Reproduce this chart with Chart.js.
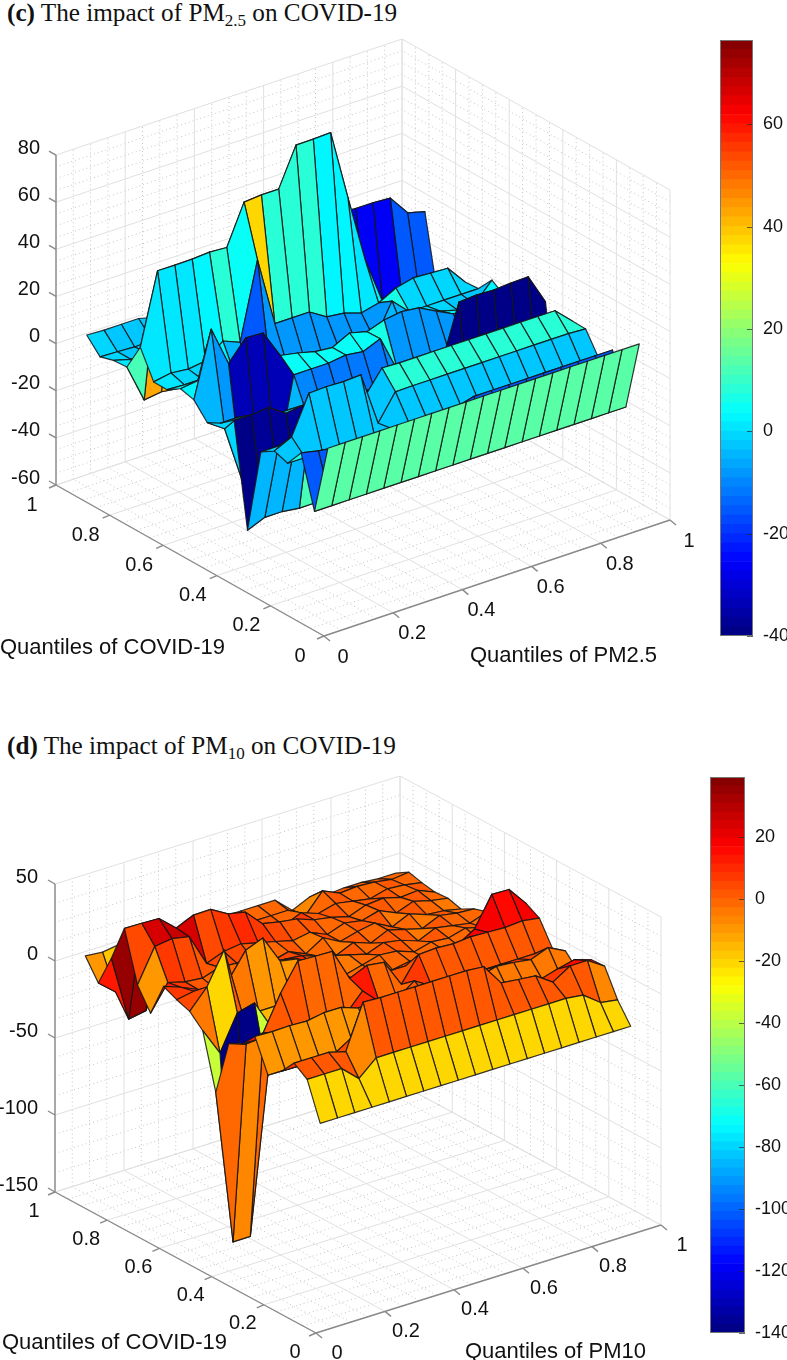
<!DOCTYPE html>
<html>
<head>
<meta charset="utf-8">
<title>Quantile impact surfaces</title>
<script src="https://cdn.jsdelivr.net/npm/chart.js@4"></script>
<style>
html, body { margin: 0; padding: 0; background: #fff; }
#page { position: relative; width: 787px; height: 1360px; overflow: hidden; }
canvas { position: absolute; }
.title { position: absolute; left: 7px; font-family: "Liberation Serif", serif; font-size: 25.2px; color: #111; white-space: nowrap; }
.title sub { font-size: 17px; vertical-align: -5px; line-height: 0; }
</style>
</head>
<body>
<div id="page">
    <div class="title" style="top:-1px"><b>(c)</b> The impact of PM<sub>2.5</sub> on COVID-19</div>
    <div class="title" style="top:732px"><b>(d)</b> The impact of PM<sub>10</sub> on COVID-19</div>
    <canvas id="surfaceC" style="left:0;top:0"></canvas>
    <canvas id="surfaceD" style="left:0;top:680px"></canvas>
    <canvas id="barC" style="left:690px;top:0"></canvas>
    <canvas id="barD" style="left:690px;top:680px"></canvas>
</div>
<script>
// grid of the quantiles on both floor axes
const quantiles = [0.05,0.1,0.15,0.2,0.25,0.3,0.35,0.4,0.45,0.5,0.55,0.6,0.65,0.7,0.75,0.8,0.85,0.9,0.95];
const floorTicks = [0,0.2,0.4,0.6,0.8,1];
const zTicksC = [-60,-40,-20,0,20,40,60,80];
const zTicksD = [-150,-100,-50,0,50];
const barTicksC = [-40,-20,0,20,40,60];
const barTicksD = [-140,-120,-100,-80,-60,-40,-20,0,20];

// rows run along PM, one row per COVID-19 quantile (0.05 first)
const impactPM25 = [
    [14,14,14,14,14,14,14,14,14,14,14,14,14,14,14,14,14,14,14],
    [-16,-16,-16,-16,-16,-16,-16,-16,-16,-16,-16,-16,-16,-16,-16,-16,-16,-16,-16],
    [5.6,4,3,3,3,3,3,3,3,3,5,5,5,5,5,5,5,5,5],
    [-2,-2,-2,-2,-2,-2,-2,-2,-2,-2,-2,-2,-2,-2,-2,-2,-2,-2,-2],
    [0,3.5,19.6,19.9,19.6,20,-3,7.9,8,8,8,8,8,8,8,8,8,8,7.5],
    [-3.6,-3.6,-3.6,12,5,5,5,14.8,14.5,14.5,14.5,14.5,14.5,14.5,14.5,14.5,14.5,14.5,7.7],
    [-40,-37,-37,-38,-38,-37,-38,-40,-40,-40,-40,-40,-40,-40,-40,-40,-40,-40,-40],
    [3.5,3.2,4,-1,0,0,-1,-2,-3,-3,-3,-3,-2,21.6,22.1,21.8,22.3,22.5,9.4],
    [-1,-1,-5,-5,-5,-10,-12,-12,-12,-12,-10,-8,-8,-8,-8,-8,-8,-8,-8],
    [-4,-9,-33,-33,-33,4,4,4,5,4,7,-9,-9,-9,-9,-9,-9,-9,-9],
    [2.5,30,13,21.4,21,9,7.6,5.7,5,8.7,6.8,9.3,10.4,9.5,5.7,2,2,2,2],
    [4,5,5,3,3,0,-3,-5,-5,-5,-5,-5,-5,-5,0,0,-2,-2,5.8],
    [0.4,0,0,3,-5,-15,-8,-8,-8,-8,-8,-8,-8,6,-1,-1,-1,-1,-1],
    [0.5,1.8,1,2,8,5,37.5,8,8,8,3.5,2.6,0.2,2,5.9,7.7,7.3,6.9,-1.4],
    [12,42,41.9,42,42.5,42,58.8,59.4,59.4,75.6,75.7,76,46,17,-3,-3,-3,-3,-3],
    [0.4,-16,-15,-16,-18,-20,-22,-25,-25,-25,-25,-25,-25,-26,-26,-26,-15,-15,-15],
    [0,-2,-2,3,5,5,5,5,10,20,25,28,28,30.6,30,30,29.5,20.8,18.8],
    [-1.7,-2,-2.4,-2,0,0,0,0,0,0,0,0,0,0,0,0,0,0,0],
    [4.4,4,4,4,2,2,2,2,2,2,2,2,2,2,2,2,2,2,2]
];

const impactPM10 = [
    [-22,-22,-22,-22,-22,-22,-22,-22,-22,-22,-22,-22,-22,-22,-22,-22,-22,-22,-22],
    [2,2,2,-8,2,2,2,2,2,2,2,2,2,2,2,2,0.6,-7.7,-9.5],
    [8,8,8,5,33.6,33,33,33,33,33,33,32,18,16.7,15.6,8,15,15,7.9],
    [-2,-2,-2,-2,5,5,5,5,5,5,5,5,5,5,5,5,8.3,11,7.4],
    [-9,-9,-9,-9,-9,-9,-8,-8,0,0,0,0,-5,-5,-5,-5,-5,-5,-5],
    [11.6,11.2,11.5,11,13,12.9,9,11,2,2,2,2,5,5,8,7,5.4,9.7,4],
    [2,2,2,2,0,0,0,12,0,0,8,1.2,1.2,1.2,1.2,1.2,1.2,1.2,1.2],
    [-2,-6,-2,20,37.4,37,36.6,15.6,20.5,19,1.2,17,17.7,17,18,17.5,17,17.9,16.2],
    [-38.5,-139,-139,-39,8,8,8,8,8,8,5,5,5,5,8,15,34,33.7,21],
    [-3,-21,1.5,4.5,-15,-5,0,0,0,-2,0,-2,0,-2,0,-2,0,-2,0],
    [5,17.3,37.8,-5,-9,-9,-9,-5,-3,-3,0,3,2,-2,1,0,3,0,-2],
    [8,10,8,10,26,30.5,12,10,3,5,2,-1,3,1,-3,2,0,-2,2],
    [12,8,3,0,-2,-18,-18,5,4,0,-3,2,-2,3,0,-3,2,0,-0.7],
    [-10,6.5,3.4,2.3,5.8,5,3,-1,2,-3,4,-2,1,3,-3,2,-2,-3,-5.4],
    [3.8,25.3,26.9,24.6,3.8,8,9.5,6.6,4,1,3,-2,2,0,3,-2,2,-1,-3],
    [36,35.8,35.4,25.7,30.6,30.8,24.4,22,11,8.7,7,3,1,-2,2,3,0,1,-3.6],
    [12,-31,-29,0,0,0,0,0,0,2,-2,3,-1,2,0,-2,1,0,-2],
    [-8.6,-18,-5,0,0,0,0,0,0,0,0,0,-7,5.6,0.6,1.5,0.8,-1,0.2],
    [4.4,3.3,5,3,2,2,2,2,2,2,2,2,-8,-3,-5,-4,-4,-5,-5]
];

function jetColor(value, min, max) {
    let level = Math.floor((value - min) / (max - min) * 64);
    level = Math.max(0, Math.min(63, level));
    const t = (level + 0.5) / 64;
    const part = function(center) {
        const v = Math.max(0, Math.min(1, 1.5 - Math.abs(4 * t - center)));
        return Math.round(v * 255);
    };
    return 'rgb(' + part(3) + ',' + part(2) + ',' + part(1) + ')';
}

// the view of each panel: where the floor axes and the z axis land on the canvas
const viewC = {
    width: 787, height: 680,
    ox: 324, oy: 636, xdx: 346, xdy: -116, ydx: -268, ydy: -151, zScale: 2.357,
    zMin: -60, zMax: 80, cMin: -40, cMax: 76.5,
    zTicks: zTicksC, xTitle: 'Quantiles of PM2.5',
    yTitleAt: [0, 648], xTitleAt: [470, 656],
    yLabel: [-24, 20], xLabel: [19, 21], zLabelX: 40
};
const viewD = {
    width: 787, height: 680,
    ox: 316, oy: 653, xdx: 345, xdy: -108, ydx: -261, ydy: -141, zScale: 1.54,
    zMin: -150, zMax: 50, cMin: -140, cMax: 39.5,
    zTicks: zTicksD, xTitle: 'Quantiles of PM10',
    yTitleAt: [2, 663], xTitleAt: [465, 672],
    yLabel: [-21, 19], xLabel: [21, 20], zLabelX: 38
};

function project(view, x, y, z) {
    return {
        x: view.ox + view.xdx * x + view.ydx * y,
        y: view.oy + view.xdy * x + view.ydy * y - view.zScale * (z - view.zMin)
    };
}

const boxPlugin = {
    id: 'box',
    beforeDatasetsDraw(chart, args, opts) {
        const view = opts.view;
        const ctx = chart.ctx;
        const sx = chart.scales.x, sy = chart.scales.y;
        const line = function(a, b) {
            ctx.beginPath();
            ctx.moveTo(sx.getPixelForValue(a.x), sy.getPixelForValue(a.y));
            ctx.lineTo(sx.getPixelForValue(b.x), sy.getPixelForValue(b.y));
            ctx.stroke();
        };
        const P = function(x, y, z) { return project(view, x, y, z); };
        const drawGrid = function(floorList, zList) {
            floorList.forEach(function(q) {
                line(P(q, 0, view.zMin), P(q, 1, view.zMin));
                line(P(0, q, view.zMin), P(1, q, view.zMin));
                line(P(q, 1, view.zMin), P(q, 1, view.zMax));
                line(P(1, q, view.zMin), P(1, q, view.zMax));
            });
            zList.forEach(function(z) {
                line(P(0, 1, z), P(1, 1, z));
                line(P(1, 0, z), P(1, 1, z));
            });
        };
        ctx.save();
        // minor dotted grid first, every fourth of a major step
        const minorFloor = [], minorZ = [];
        for (let i = 1; i < 20; i++) if (i % 4 !== 0) minorFloor.push(i / 20);
        const zStep = view.zTicks[1] - view.zTicks[0];
        for (let i = 0; i < view.zTicks.length - 1; i++) {
            for (let k = 1; k < 4; k++) minorZ.push(view.zTicks[i] + zStep * k / 4);
        }
        ctx.strokeStyle = '#c4c4c4';
        ctx.lineWidth = 1;
        ctx.setLineDash([1, 3]);
        drawGrid(minorFloor, minorZ);
        ctx.setLineDash([]);
        ctx.strokeStyle = '#e0e0e0';
        drawGrid(floorTicks, view.zTicks);

        // axes and tick marks
        ctx.strokeStyle = '#8a8a8a';
        ctx.lineWidth = 1.4;
        line(P(0, 0, view.zMin), P(1, 0, view.zMin));
        line(P(0, 0, view.zMin), P(0, 1, view.zMin));
        line(P(0, 1, view.zMin), P(0, 1, view.zMax));
        floorTicks.forEach(function(q) {
            const a = P(q, 0, view.zMin), b = P(0, q, view.zMin);
            line(a, { x: a.x + 6, y: a.y + 5 });
            line(b, { x: b.x - 7, y: b.y + 3 });
        });
        view.zTicks.forEach(function(z) {
            const a = P(0, 1, z);
            line(a, { x: a.x - 7, y: a.y - 4 });
        });
        ctx.restore();
    },
    afterDatasetsDraw(chart, args, opts) {
        const view = opts.view;
        const rows = opts.rows;
        const n = quantiles.length;
        const pts = chart.getDatasetMeta(0).data;
        const ctx = chart.ctx;
        ctx.save();
        ctx.lineJoin = 'round';
        ctx.lineWidth = 1.2;
        ctx.strokeStyle = 'rgba(20,20,20,0.85)';
        // far corner first so nearer cells paint over it
        for (let j = n - 2; j >= 0; j--) {
            for (let i = n - 2; i >= 0; i--) {
                const a = pts[j * n + i], b = pts[j * n + i + 1];
                const c = pts[(j + 1) * n + i + 1], d = pts[(j + 1) * n + i];
                ctx.beginPath();
                ctx.moveTo(a.x, a.y);
                ctx.lineTo(b.x, b.y);
                ctx.lineTo(c.x, c.y);
                ctx.lineTo(d.x, d.y);
                ctx.closePath();
                ctx.fillStyle = jetColor(rows[j][i], view.cMin, view.cMax);
                ctx.fill();
                ctx.stroke();
            }
        }
        // labels
        ctx.fillStyle = '#111';
        ctx.font = '20px "Liberation Sans", Arial, sans-serif';
        ctx.textBaseline = 'middle';
        ctx.textAlign = 'right';
        view.zTicks.forEach(function(z) {
            const a = project(view, 0, 1, z);
            ctx.fillText(String(z), view.zLabelX, a.y - 7);
        });
        ctx.textAlign = 'center';
        floorTicks.forEach(function(q) {
            const a = project(view, q, 0, view.zMin), b = project(view, 0, q, view.zMin);
            ctx.fillText(String(q), a.x + view.xLabel[0], a.y + view.xLabel[1]);
            ctx.fillText(String(q), b.x + view.yLabel[0], b.y + view.yLabel[1]);
        });
        ctx.textAlign = 'left';
        ctx.font = '22px "Liberation Sans", Arial, sans-serif';
        ctx.fillText('Quantiles of COVID-19', view.yTitleAt[0], view.yTitleAt[1]);
        ctx.fillText(view.xTitle, view.xTitleAt[0], view.xTitleAt[1]);
        ctx.restore();
    }
};

function drawSurface(canvasId, view, rows) {
    const canvas = document.getElementById(canvasId);
    canvas.width = view.width;
    canvas.height = view.height;
    const vertices = [];
    rows.forEach(function(row, j) {
        row.forEach(function(z, i) {
            vertices.push(project(view, quantiles[i], quantiles[j], z));
        });
    });
    new Chart(canvas.getContext('2d'), {
        type: 'scatter',
        data: { datasets: [{ data: vertices, pointRadius: 0, showLine: false }] },
        options: {
            responsive: false,
            animation: false,
            layout: { padding: 0 },
            plugins: { legend: { display: false }, tooltip: { enabled: false }, box: { view: view, rows: rows } },
            scales: {
                x: { type: 'linear', min: 0, max: view.width, display: false },
                y: { type: 'linear', min: 0, max: view.height, reverse: true, display: false }
            }
        },
        plugins: [boxPlugin]
    });
}

const innerTicks = {
    id: 'innerTicks',
    afterDatasetsDraw(chart) {
        const ctx = chart.ctx, area = chart.chartArea, y = chart.scales.y;
        ctx.save();
        ctx.strokeStyle = 'rgba(40,40,40,0.7)';
        ctx.lineWidth = 1;
        y.ticks.forEach(function(t) {
            const p = Math.round(y.getPixelForValue(t.value)) + 0.5;
            ctx.beginPath();
            ctx.moveTo(area.right - 6, p);
            ctx.lineTo(area.right, p);
            ctx.stroke();
        });
        ctx.strokeStyle = '#777';
        ctx.strokeRect(area.left + 0.5, area.top + 0.5, area.right - area.left - 1, area.bottom - area.top - 1);
        ctx.restore();
    }
};

function drawColorbar(canvasId, cMin, cMax, ticks, top, bottom, barLeft, barRight) {
    const canvas = document.getElementById(canvasId);
    canvas.width = 97;
    canvas.height = 680;
    const bands = [];
    for (let k = 0; k < 64; k++) {
        const lo = cMin + (cMax - cMin) * k / 64, hi = cMin + (cMax - cMin) * (k + 1) / 64;
        bands.push({
            data: [[lo, hi]],
            backgroundColor: jetColor((lo + hi) / 2, cMin, cMax),
            barPercentage: 1,
            categoryPercentage: 1,
            grouped: false
        });
    }
    new Chart(canvas.getContext('2d'), {
        type: 'bar',
        data: { labels: ['band'], datasets: bands },
        options: {
            responsive: false,
            animation: false,
            layout: { padding: { left: barLeft, top: top, bottom: 680 - bottom, right: 0 } },
            plugins: { legend: { display: false }, tooltip: { enabled: false } },
            scales: {
                x: { display: false },
                y: {
                    position: 'right', min: cMin, max: cMax,
                    afterBuildTicks: function(axis) { axis.ticks = ticks.map(function(v) { return { value: v }; }); },
                    afterFit: function(axis) { axis.width = 97 - barRight; },
                    grid: { display: false },
                    border: { display: false },
                    ticks: { color: '#111', padding: 2, autoSkip: false, font: { family: '"Liberation Sans", Arial, sans-serif', size: 18 } }
                }
            }
        },
        plugins: [innerTicks]
    });
}

document.addEventListener('DOMContentLoaded', function() {
    drawSurface('surfaceC', viewC, impactPM25);
    drawSurface('surfaceD', viewD, impactPM10);
    drawColorbar('barC', viewC.cMin, viewC.cMax, barTicksC, 40, 636, 30, 63);
    drawColorbar('barD', viewD.cMin, viewD.cMax, barTicksD, 97, 653, 20, 55);
});
</script>
</body>
</html>
